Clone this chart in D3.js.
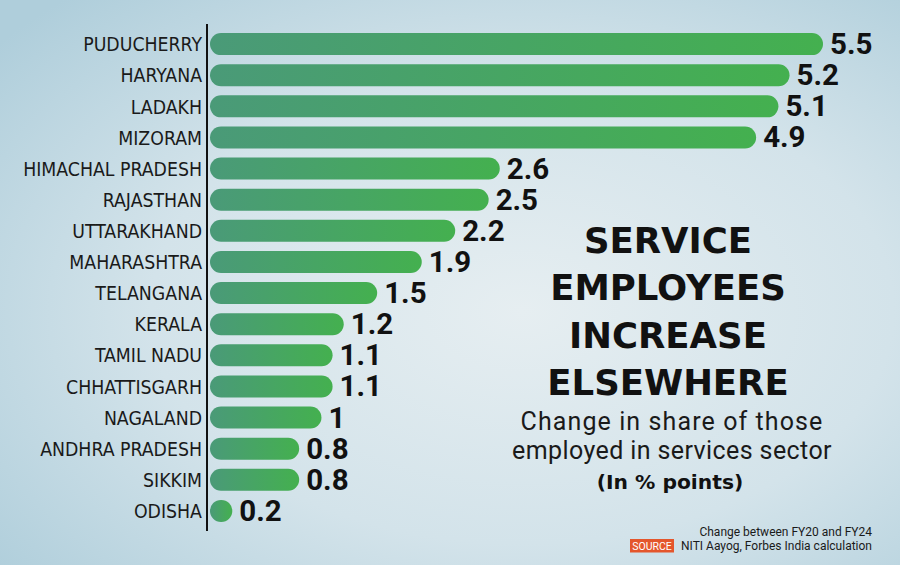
<!DOCTYPE html>
<html>
<head>
<meta charset="utf-8">
<script src="https://cdn.jsdelivr.net/npm/d3@7/dist/d3.min.js"></script>
<style>
  html, body { margin: 0; padding: 0; background: #cfe0e8; }
  svg { display: block; }
</style>
</head>
<body>
<svg id="chart" width="900" height="565"></svg>
<script>
const states = ["PUDUCHERRY","HARYANA","LADAKH","MIZORAM","HIMACHAL PRADESH","RAJASTHAN","UTTARAKHAND","MAHARASHTRA","TELANGANA","KERALA","TAMIL NADU","CHHATTISGARH","NAGALAND","ANDHRA PRADESH","SIKKIM","ODISHA"];
const changeValues = [5.5, 5.2, 5.1, 4.9, 2.6, 2.5, 2.2, 1.9, 1.5, 1.2, 1.1, 1.1, 1, 0.8, 0.8, 0.2];
const valueLabels = ["5.5","5.2","5.1","4.9","2.6","2.5","2.2","1.9","1.5","1.2","1.1","1.1","1","0.8","0.8","0.2"];
const titleLines = ["SERVICE","EMPLOYEES","INCREASE","ELSEWHERE"];
const subtitleLines = ["Change in share of those","employed in services sector"];
const unitLine = "(In % points)";
const noteLine = "Change between FY20 and FY24";
const sourceTag = "SOURCE";
const sourceLine = "NITI Aayog, Forbes India calculation";

const W = 900, H = 565;
const svg = d3.select("#chart");
const defs = svg.append("defs");

const bg = defs.append("radialGradient").attr("id","bg")
  .attr("cx","0.58").attr("cy","0.55").attr("r","0.75");
bg.append("stop").attr("offset","0").attr("stop-color","#e6eef1");
bg.append("stop").attr("offset","0.55").attr("stop-color","#d3e3ea");
bg.append("stop").attr("offset","1").attr("stop-color","#afcedb");
svg.append("rect").attr("width",W).attr("height",H).attr("fill","url(#bg)");

const bargrad = defs.append("linearGradient").attr("id","bargrad")
  .attr("x1","0").attr("x2","1").attr("y1","0").attr("y2","0");
bargrad.append("stop").attr("offset","0").attr("stop-color","#4a9a78");
bargrad.append("stop").attr("offset","1").attr("stop-color","#44b04f");

const x = d3.scaleLinear().domain([0, 5.5]).range([210, 823]);
const y = d3.scaleBand().domain(states).range([24, 531]).padding(0.293);

const rows = states.map((s, i) => ({state: s, value: changeValues[i], label: valueLabels[i]}));

// bars
svg.append("g").selectAll("rect").data(rows).join("rect")
  .attr("x", x(0))
  .attr("y", d => y(d.state))
  .attr("width", d => Math.max(y.bandwidth(), x(d.value) - x(0)))
  .attr("height", y.bandwidth())
  .attr("rx", y.bandwidth()/2)
  .attr("fill", "url(#bargrad)");

// axis line
svg.append("line")
  .attr("x1", 207).attr("x2", 207)
  .attr("y1", y.range()[0]).attr("y2", y.range()[1])
  .attr("stroke", "#111").attr("stroke-width", 2);

// category labels
svg.append("g").selectAll("text").data(rows).join("text")
  .attr("x", 202)
  .attr("y", d => y(d.state) + y.bandwidth()/2 + 7.2)
  .attr("text-anchor", "end")
  .attr("font-family", "'DejaVu Sans Condensed', 'DejaVu Sans', sans-serif")
  .attr("font-stretch", "condensed")
  .attr("font-size", 19.3)
  .attr("fill", "#1a1a1a")
  .text(d => d.state);

// value labels
svg.append("g").selectAll("text").data(rows).join("text")
  .attr("x", d => Math.max(x(d.value), x(0) + y.bandwidth()) + 7)
  .attr("y", d => y(d.state) + y.bandwidth()/2 + 10)
  .attr("font-family", "Roboto, sans-serif")
  .attr("font-weight", 700)
  .attr("font-size", 29.5)
  .attr("fill", "#111")
  .text(d => d.label);

// title
svg.append("g").selectAll("text").data(titleLines).join("text")
  .attr("x", 668)
  .attr("y", (d, i) => 253 + i * 47.3)
  .attr("text-anchor", "middle")
  .attr("font-family", "'DejaVu Sans', sans-serif")
  .attr("font-weight", 700)
  .attr("font-size", 35.5)
  .attr("fill", "#111")
  .text(d => d);

svg.append("g").selectAll("text").data(subtitleLines).join("text")
  .attr("x", 672)
  .attr("y", (d, i) => 430 + i * 29)
  .attr("text-anchor", "middle")
  .attr("font-family", "Roboto, sans-serif")
  .attr("font-size", 25)
  .attr("letter-spacing", (d, i) => i === 0 ? 1.1 : 0.4)
  .attr("fill", "#1a1a1a")
  .text(d => d);

svg.append("text")
  .attr("x", 670).attr("y", 489)
  .attr("text-anchor", "middle")
  .attr("font-family", "'DejaVu Sans', sans-serif")
  .attr("font-weight", 700)
  .attr("font-size", 20.3)
  .attr("fill", "#111")
  .text(unitLine);

// footer
svg.append("text")
  .attr("x", 872).attr("y", 536)
  .attr("text-anchor", "end")
  .attr("font-family", "Roboto, sans-serif")
  .attr("font-size", 12)
  .attr("fill", "#1a1a1a")
  .text(noteLine);

svg.append("rect")
  .attr("x", 630).attr("y", 539).attr("width", 44).attr("height", 13.5)
  .attr("fill", "#e4562c");
svg.append("text")
  .attr("x", 652).attr("y", 549.5)
  .attr("text-anchor", "middle")
  .attr("font-family", "Roboto, sans-serif")
  .attr("font-size", 10.5)
  .attr("fill", "#fff")
  .text(sourceTag);
svg.append("text")
  .attr("x", 872).attr("y", 549.5)
  .attr("text-anchor", "end")
  .attr("font-family", "Roboto, sans-serif")
  .attr("font-size", 12)
  .attr("fill", "#1a1a1a")
  .text(sourceLine);
</script>
</body>
</html>
